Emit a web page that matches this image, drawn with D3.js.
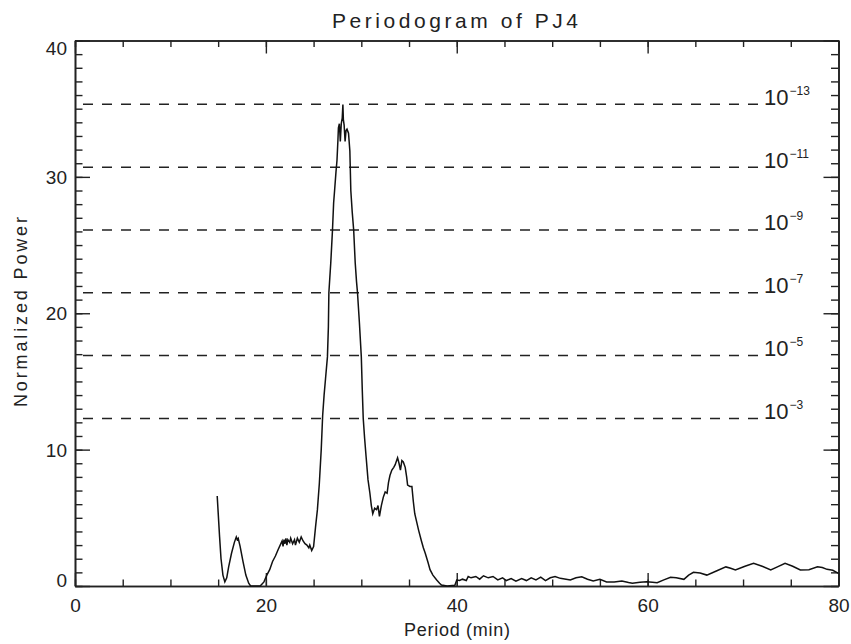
<!DOCTYPE html>
<html>
<head>
<meta charset="utf-8">
<script src="https://cdn.jsdelivr.net/npm/d3@7"></script>
<style>
  html, body { margin: 0; padding: 0; background: #fff; }
  svg { display: block; }
  text { font-family: "Liberation Sans", Arial, sans-serif; fill: #222; }
</style>
</head>
<body>
<svg id="chart" width="851" height="644"></svg>
<script>
// ---------- data ----------
const titleText = "Periodogram of PJ4";
const xLabel = "Period (min)";
const yLabel = "Normalized Power";
const xTicks = [0, 20, 40, 60, 80];
const yTicks = [0, 10, 20, 30, 40];
// false-alarm probability levels (exponent) and their power thresholds
const fapExponents = [-3, -5, -7, -9, -11, -13];
const fapLevels = [12.29, 16.90, 21.50, 26.11, 30.71, 35.32];

const period = [
  14.9, 15.0, 15.15, 15.3, 15.5, 15.7, 15.9, 16.1, 16.4, 16.7, 16.9, 17.0, 17.1, 17.3, 17.6, 17.9, 18.2, 18.4,
  19.4, 19.6, 19.8, 20.1, 20.4, 20.7, 21.0, 21.3, 21.5, 21.7, 21.8, 21.9, 22.0, 22.1, 22.2, 22.3, 22.5, 22.6,
  22.8, 23.0, 23.1, 23.3, 23.5, 23.7, 23.9, 24.1, 24.3, 24.5, 24.6, 24.8, 25.0, 25.2, 25.4, 25.6, 25.8, 25.95,
  26.1, 26.25, 26.45, 26.55, 26.6, 26.7, 26.8, 26.98, 27.1, 27.2, 27.35, 27.45, 27.55, 27.6, 27.7, 27.8, 27.9,
  28.0, 28.07, 28.12, 28.2, 28.3, 28.4, 28.5, 28.66, 28.8, 28.9, 29.05, 29.2, 29.36, 29.5, 29.6, 29.8, 30.0,
  30.1, 30.2, 30.35, 30.5, 30.7, 30.9, 31.05, 31.2, 31.4, 31.6, 31.75, 31.9, 32.1, 32.3, 32.5, 32.7, 32.85,
  33.0, 33.2, 33.4, 33.55, 33.7, 33.8, 33.95, 34.1, 34.25, 34.4, 34.6, 34.75, 34.85, 35.1, 35.3, 35.45, 35.6,
  35.8, 36.0, 36.3, 36.5, 36.7, 37.0, 37.2, 37.5, 37.9, 38.2, 38.4, 39.0, 39.8, 40.0, 40.3, 40.6, 41.0, 41.2,
  41.5, 42.0, 42.4, 42.8, 43.3, 43.8, 44.3, 44.8, 45.2, 45.7, 46.2, 46.8, 47.3, 47.8, 48.3, 48.8, 49.3, 49.8,
  50.3, 50.85, 51.9, 52.5, 53.1, 53.7, 54.3, 55.0, 55.7, 56.5, 57.3, 58.0, 58.4, 59.2, 59.9, 60.5, 61.0, 61.7,
  62.4, 63.0, 63.8, 64.3, 64.8, 65.5, 66.2, 67.2, 68.2, 68.7, 69.2, 70.2, 71.1, 72.0, 72.9, 73.6, 74.4, 75.2,
  76.0, 76.9, 77.8, 78.3, 78.8, 79.4, 80.0
];
const power = [
  6.6, 5.4, 3.6, 2.0, 0.8, 0.3, 0.6, 1.4, 2.4, 3.2, 3.6, 3.4, 3.5, 2.9, 1.8, 0.8, 0.2, 0.0,
  0.0, 0.15, 0.3, 0.8, 1.2, 1.8, 2.2, 2.7, 3.0, 3.3, 2.9, 3.4, 3.1, 3.5, 3.0, 3.4, 3.2, 3.5,
  3.1, 3.4, 3.0, 3.5, 3.2, 3.6, 3.3, 3.1, 3.0, 2.8, 3.0, 2.6, 2.9, 4.3, 5.6, 7.5, 10.0, 12.5,
  14.0, 15.2, 16.8, 19.0, 21.5, 22.6, 23.7, 26.1, 28.1, 29.0, 30.4, 31.2, 32.7, 33.6, 33.9, 32.6, 33.9,
  34.3, 35.3, 34.2, 33.8, 32.6, 33.4, 33.5, 33.2, 31.9, 29.0, 27.4, 26.1, 23.7, 22.3, 21.5, 19.3, 16.8,
  14.4, 12.3, 10.8, 9.5, 7.8, 6.8, 5.9, 5.3, 5.7, 5.6, 5.9, 5.1, 5.9, 6.5, 6.9, 6.8, 7.6,
  8.1, 8.5, 8.7, 8.9, 9.2, 9.4, 9.0, 8.5, 9.2, 9.1, 8.7, 8.0, 7.4, 7.3, 7.3, 6.2, 5.3,
  4.7, 4.1, 3.3, 2.8, 2.4, 1.7, 1.2, 0.8, 0.44, 0.2, 0.07, 0.0, 0.05, 0.44, 0.4, 0.5, 0.4, 0.7,
  0.6, 0.7, 0.5, 0.75, 0.6, 0.7, 0.45, 0.6, 0.4, 0.55, 0.35, 0.55, 0.4, 0.6, 0.45, 0.65, 0.4, 0.6,
  0.7, 0.56, 0.44, 0.6, 0.68, 0.5, 0.37, 0.49, 0.29, 0.3, 0.37, 0.25, 0.2, 0.28, 0.32, 0.28, 0.24, 0.45,
  0.64, 0.6, 0.49, 0.8, 1.0, 0.95, 0.8, 1.1, 1.4, 1.3, 1.17, 1.45, 1.66, 1.45, 1.17, 1.4, 1.66, 1.45,
  1.17, 1.2, 1.41, 1.35, 1.22, 1.15, 0.93
];

// ---------- layout ----------
const L = 75, R = 838.5, T = 40.5, B = 586;
const svg = d3.select("#chart");
svg.append("rect").attr("width", 851).attr("height", 644).attr("fill", "#fff");

const x = d3.scaleLinear().domain([0, 80]).range([L, R]);
const y = d3.scaleLinear().domain([0, 40]).range([B, T]);

const axisColor = "#222";
function styleAxis(g) {
  g.selectAll(".domain").attr("stroke", axisColor).attr("stroke-width", 1.6);
  g.selectAll(".tick line").attr("stroke", axisColor).attr("stroke-width", 1.4);
  g.selectAll(".tick text").attr("font-size", 19).attr("fill", "#222")
    .attr("font-family", '"Liberation Sans", Arial, sans-serif');
}

const xMinor = d3.range(0, 81, 5);
const yMinor = d3.range(0, 41, 1);

// bottom
svg.append("g").attr("transform", `translate(0,${B})`)
  .call(d3.axisBottom(x).tickValues(xMinor).tickSize(-6.5).tickSizeOuter(0).tickFormat(""))
  .call(styleAxis);
svg.append("g").attr("transform", `translate(0,${B})`)
  .call(d3.axisBottom(x).tickValues(xTicks).tickSize(-13).tickSizeOuter(0).tickPadding(13).tickFormat(d3.format("d")))
  .call(styleAxis);
// top
svg.append("g").attr("transform", `translate(0,${T})`)
  .call(d3.axisTop(x).tickValues(xMinor).tickSize(-6.5).tickSizeOuter(0).tickFormat(""))
  .call(styleAxis);
svg.append("g").attr("transform", `translate(0,${T})`)
  .call(d3.axisTop(x).tickValues(xTicks).tickSize(-13).tickSizeOuter(0).tickFormat(""))
  .call(styleAxis);
// left
svg.append("g").attr("transform", `translate(${L},0)`)
  .call(d3.axisLeft(y).tickValues(yMinor).tickSize(-7.5).tickSizeOuter(0).tickFormat(""))
  .call(styleAxis);
const yAx = svg.append("g").attr("transform", `translate(${L},0)`)
  .call(d3.axisLeft(y).tickValues(yTicks).tickSize(-15).tickSizeOuter(0).tickPadding(8).tickFormat(d3.format("d")))
  .call(styleAxis);
yAx.selectAll(".tick text").attr("dy", d => d === 0 ? "0em" : (d === 40 ? "0.72em" : "0.34em"));
// right
svg.append("g").attr("transform", `translate(${R},0)`)
  .call(d3.axisRight(y).tickValues(yMinor).tickSize(-7.5).tickSizeOuter(0).tickFormat(""))
  .call(styleAxis);
svg.append("g").attr("transform", `translate(${R},0)`)
  .call(d3.axisRight(y).tickValues(yTicks).tickSize(-15).tickSizeOuter(0).tickFormat(""))
  .call(styleAxis);

// ---------- dashed FAP levels ----------
const fap = fapLevels.map((v, i) => ({ v, e: fapExponents[i] }));
svg.append("g").selectAll("line").data(fap).join("line")
  .attr("x1", L).attr("x2", 763)
  .attr("y1", d => y(d.v)).attr("y2", d => y(d.v))
  .attr("stroke", "#222").attr("stroke-width", 1.5)
  .attr("stroke-dasharray", "10 9").attr("stroke-dashoffset", 11);

const lbl = svg.append("g").selectAll("text").data(fap).join("text")
  .attr("x", 764).attr("y", d => y(d.v) + 0.5)
  .attr("font-size", 22);
lbl.append("tspan").text("10");
lbl.append("tspan").attr("font-size", 12).attr("dy", -10).attr("dx", 1)
  .text(d => "\u2212" + Math.abs(d.e));

// ---------- periodogram curve ----------
const pts = period.map((p, i) => [p, power[i]]);
svg.append("path").datum(pts)
  .attr("fill", "none").attr("stroke", "#111").attr("stroke-width", 1.5)
  .attr("stroke-linejoin", "miter")
  .attr("d", d3.line().x(d => x(d[0])).y(d => y(d[1])));

// ---------- titles ----------
svg.append("text").attr("x", 455).attr("y", 28).attr("text-anchor", "middle")
  .attr("font-size", 21).attr("textLength", 246).attr("lengthAdjust", "spacing")
  .text(titleText);
svg.append("text").attr("x", 457).attr("y", 636).attr("text-anchor", "middle")
  .attr("font-size", 18).attr("textLength", 106).attr("lengthAdjust", "spacing")
  .text(xLabel);
svg.append("text").attr("transform", "translate(27,312) rotate(-90)").attr("text-anchor", "middle")
  .attr("font-size", 18).attr("textLength", 190).attr("lengthAdjust", "spacing")
  .text(yLabel);
</script>
</body>
</html>
